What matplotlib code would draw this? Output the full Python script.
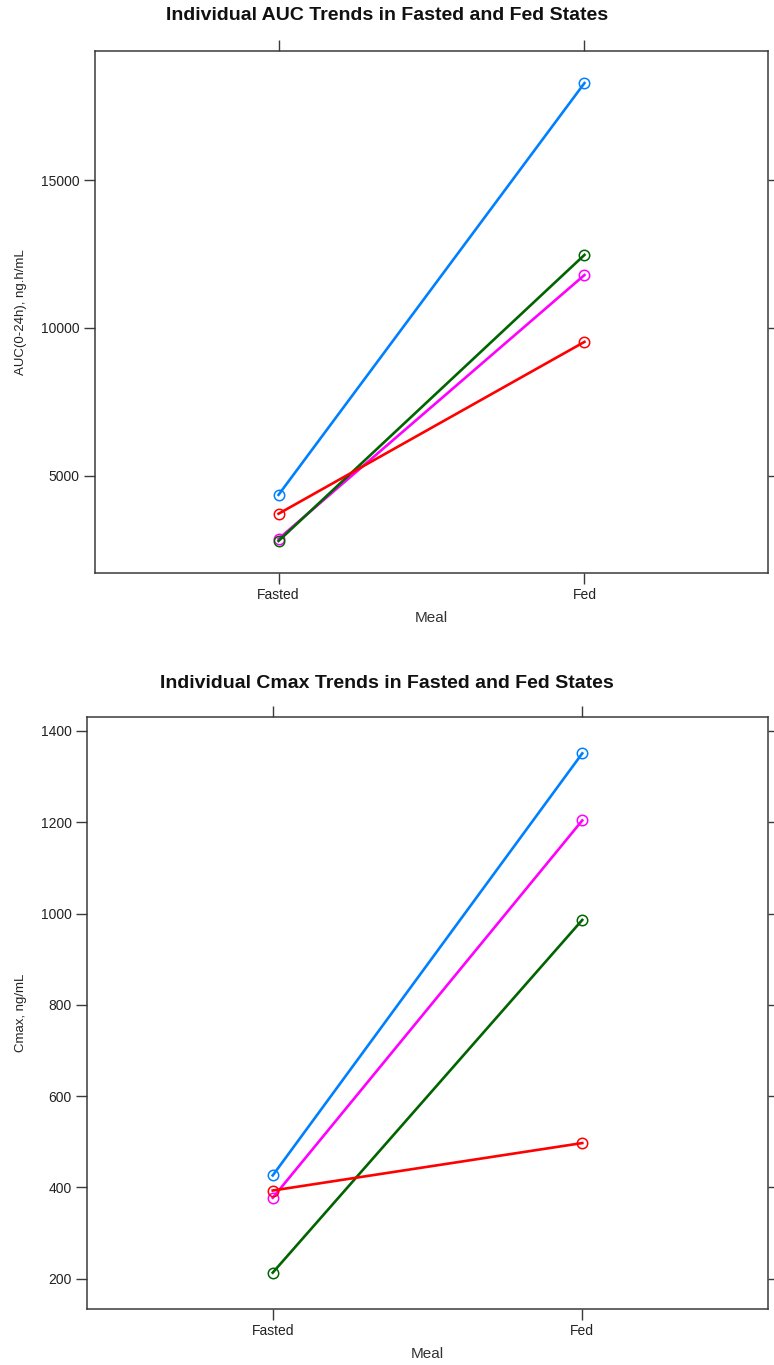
import matplotlib
matplotlib.use("Agg")
import matplotlib.pyplot as plt

plt.rcParams['font.family'] = ['Liberation Sans', 'DejaVu Sans']

meals = ["Fasted", "Fed"]
subject_colors = ["#0080ff", "#ff00ff", "#006400", "#ff0000"]

auc_fasted = [4360, 2870, 2800, 3720]
auc_fed = [18280, 11790, 12470, 9530]
auc_ticks = [5000, 10000, 15000]

cmax_fasted = [426, 377, 213, 393]
cmax_fed = [1351, 1204, 986, 497]
cmax_ticks = [200, 400, 600, 800, 1000, 1200, 1400]

fig = plt.figure(figsize=(7.74, 13.65), dpi=100)
fig.patch.set_facecolor("white")

frame_col = "#3a3a3a"


def panel(rect, fasted, fed, yticks, ylabel, title, title_y):
    ax = fig.add_axes(rect)
    xs = [1, 2]
    for f, d, c in zip(fasted, fed, subject_colors):
        ax.plot(xs, [f, d], color=c, lw=1.9, marker="o", ms=7.5,
                mfc="none", mec=c, mew=1.1, zorder=3)
    lo = min(fasted + fed)
    hi = max(fasted + fed)
    pad = (hi - lo) * 0.07
    ax.set_ylim(lo - pad, hi + pad)
    ax.set_xlim(0.4, 2.6)
    ax.set_xticks(xs)
    ax.set_xticklabels(meals)
    ax.set_yticks(yticks)
    ax.set_yticklabels([str(t) for t in yticks])
    ax.tick_params(axis="both", direction="out", length=8, width=1.0,
                   color=frame_col, labelsize=10, labelcolor="#222222",
                   top=True, right=True, labeltop=False, labelright=False, pad=3)
    for s in ax.spines.values():
        s.set_color(frame_col)
        s.set_linewidth(1.1)
    ax.set_xlabel("Meal", fontsize=11, color="#333333", labelpad=6)
    ax.set_ylabel(ylabel, fontsize=9.5, color="#222222", labelpad=10)
    fig.text(0.5, title_y, title, ha="center", va="center",
             fontsize=14, fontweight="bold", color="#111111")
    return ax


panel([95 / 774, 1 - 573 / 1365, 673 / 774, 522 / 1365],
      auc_fasted, auc_fed, auc_ticks, "AUC(0-24h), ng.h/mL",
      "Individual AUC Trends in Fasted and Fed States", 1 - 15 / 1365)

panel([87 / 774, 1 - 1309 / 1365, 681 / 774, 592 / 1365],
      cmax_fasted, cmax_fed, cmax_ticks, "Cmax, ng/mL",
      "Individual Cmax Trends in Fasted and Fed States", 1 - 684 / 1365)

fig.savefig("out.png", dpi=100, facecolor="white")
